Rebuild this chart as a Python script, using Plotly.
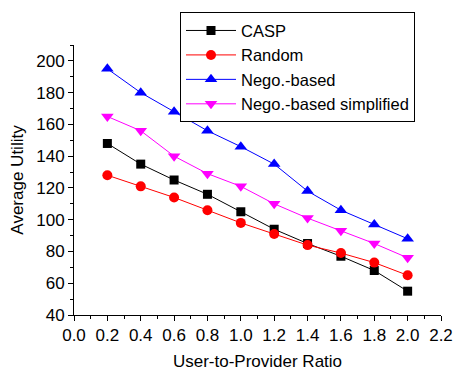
import plotly.graph_objects as go

ratio = [0.2, 0.4, 0.6, 0.8, 1.0, 1.2, 1.4, 1.6, 1.8, 2.0]
casp = [148, 135, 125, 116, 105, 94, 85, 77, 68, 55]
random_ = [128, 121, 114, 106, 98, 91, 84, 79, 73, 65]
nego = [195, 180, 168, 156, 146, 135, 118, 106, 97, 88]
nego_simpl = [165, 156, 140, 129, 121, 110, 101, 93, 85, 76]

series = [
    ("CASP", casp, "black", "square", 9),
    ("Random", random_, "red", "circle", 10),
    ("Nego.-based", nego, "blue", "triangle-up", 11),
    ("Nego.-based simplified", nego_simpl, "magenta", "triangle-down", 11),
]

fig = go.Figure()
for name, vals, col, sym, sz in series:
    fig.add_trace(go.Scatter(
        x=ratio, y=vals, name=name, mode="lines+markers",
        line=dict(color=col, width=1),
        marker=dict(symbol=sym, size=sz, color=col, line=dict(width=0)),
    ))

L, R, T, B = 74, 12, 43, 56
PW, PH = 453 - L - R, 371 - T - B

font = "Liberation Sans, Arial, sans-serif"
fig.update_layout(
    width=453, height=371,
    margin=dict(l=L, r=R, t=T, b=B),
    plot_bgcolor="white", paper_bgcolor="white",
    font=dict(family=font, size=17, color="black"),
    showlegend=True,
    legend=dict(x=(180 - L) / PW, y=1 + (T - 10) / PH, xanchor="left", yanchor="top",
                bordercolor="black", borderwidth=1, bgcolor="white",
                font=dict(size=16.5), tracegroupgap=0, itemwidth=50,
                entrywidth=253, entrywidthmode="pixels"),
    xaxis=dict(range=[0, 2.2], dtick=0.2, tick0=0, tickformat=".1f",
               automargin=False,
               showline=True, linecolor="black", linewidth=1,
               ticks="outside", ticklen=5, tickcolor="black",
               showgrid=False, zeroline=False,
               minor=dict(ticks="outside", ticklen=3, dtick=0.1, tickcolor="black"),
               title=dict(text="User-to-Provider Ratio", font=dict(size=17), standoff=14),
               tickfont=dict(size=17)),
    yaxis=dict(range=[40, 210], dtick=20, tick0=40,
               automargin=False,
               showline=True, linecolor="black", linewidth=1,
               ticks="outside", ticklen=5, tickcolor="black",
               showgrid=False, zeroline=False,
               minor=dict(ticks="outside", ticklen=3, dtick=10, tickcolor="black"),
               title=dict(text="Average Utility", font=dict(size=17), standoff=8),
               tickfont=dict(size=17)),
)

fig.write_html("out.html", config={"displayModeBar": False},
               post_script="document.body.style.margin='0';")
